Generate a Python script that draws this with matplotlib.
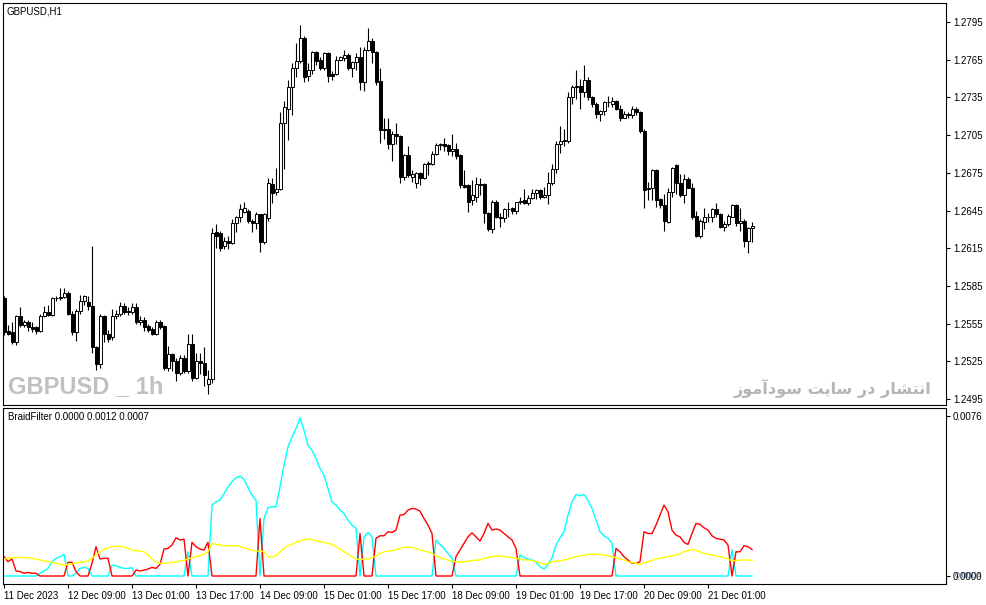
import numpy as np
import matplotlib
matplotlib.use('Agg')
import matplotlib.pyplot as plt

plt.rcParams['font.family'] = ['Liberation Sans', 'DejaVu Sans']

# GBPUSD H1 candles, bar 0 = 11 Dec 17:00
opens = [1.2575, 1.2549, 1.2548, 1.2540, 1.2561, 1.2554, 1.2556, 1.2552, 1.2552, 1.2549,
         1.2561, 1.2564, 1.2562, 1.2575, 1.2575, 1.2576, 1.2579, 1.2563, 1.2548, 1.2565,
         1.2573, 1.2572, 1.2569, 1.2536, 1.2523, 1.2561, 1.2547, 1.2544, 1.2561, 1.2563,
         1.2569, 1.2565, 1.2564, 1.2568, 1.2556, 1.2558, 1.2553, 1.2551, 1.2547, 1.2556,
         1.2553, 1.2520, 1.2531, 1.2525, 1.2516, 1.2528, 1.2517, 1.2539, 1.2512, 1.2525,
         1.2524, 1.2507, 1.2511, 1.2628, 1.2627, 1.2617, 1.2621, 1.2619, 1.2635, 1.2640,
         1.2644, 1.2645, 1.2637, 1.2635, 1.2642, 1.2620, 1.2639, 1.2666, 1.2660, 1.2662,
         1.2715, 1.2726, 1.2743, 1.2758, 1.2764, 1.2782, 1.2752, 1.2757, 1.2771, 1.2765,
         1.2758, 1.2770, 1.2754, 1.2754, 1.2765, 1.2766, 1.2769, 1.2758, 1.2763, 1.2767,
         1.2747, 1.2773, 1.2780, 1.2771, 1.2748, 1.2709, 1.2710, 1.2698, 1.2706, 1.2704,
         1.2672, 1.2689, 1.2672, 1.2667, 1.2675, 1.2671, 1.2682, 1.2682, 1.2690, 1.2697,
         1.2698, 1.2697, 1.2692, 1.2694, 1.2689, 1.2665, 1.2665, 1.2653, 1.2656, 1.2666,
         1.2666, 1.2643, 1.2630, 1.2652, 1.2640, 1.2639, 1.2646, 1.2647, 1.2645, 1.2652,
         1.2653, 1.2651, 1.2655, 1.2659, 1.2661, 1.2656, 1.2657, 1.2667, 1.2678, 1.2698,
         1.2700, 1.2700, 1.2735, 1.2743, 1.2744, 1.2739, 1.2749, 1.2735, 1.2730, 1.2722,
         1.2724, 1.2731, 1.2730, 1.2732, 1.2726, 1.2719, 1.2722, 1.2721, 1.2726, 1.2723,
         1.2708, 1.2662, 1.2663, 1.2677, 1.2654, 1.2649, 1.2636, 1.2660, 1.2681, 1.2667,
         1.2657, 1.2670, 1.2663, 1.2641, 1.2625, 1.2636, 1.2640, 1.2640, 1.2646, 1.2642,
         1.2632, 1.2634, 1.2640, 1.2649, 1.2635, 1.2637, 1.2621, 1.2631]
highs = [1.2577, 1.2554, 1.2556, 1.2562, 1.2568, 1.2558, 1.2558, 1.2556, 1.2553, 1.2563,
         1.2569, 1.2570, 1.2576, 1.2577, 1.2583, 1.2583, 1.2581, 1.2565, 1.2567, 1.2578,
         1.2578, 1.2577, 1.2617, 1.2537, 1.2563, 1.2562, 1.2550, 1.2567, 1.2566, 1.2572,
         1.2571, 1.2568, 1.2571, 1.2571, 1.2561, 1.2560, 1.2555, 1.2552, 1.2558, 1.2558,
         1.2554, 1.2537, 1.2532, 1.2528, 1.2530, 1.2530, 1.2547, 1.2547, 1.2532, 1.2532,
         1.2536, 1.2518, 1.2631, 1.2634, 1.2629, 1.2624, 1.2625, 1.2638, 1.2641, 1.2650,
         1.2652, 1.2646, 1.2638, 1.2644, 1.2642, 1.2643, 1.2671, 1.2671, 1.2679, 1.2723,
         1.2732, 1.2749, 1.2762, 1.2778, 1.2793, 1.2784, 1.2762, 1.2772, 1.2772, 1.2767,
         1.2771, 1.2771, 1.2756, 1.2768, 1.2768, 1.2773, 1.2770, 1.2764, 1.2770, 1.2775,
         1.2775, 1.2790, 1.2782, 1.2772, 1.2758, 1.2719, 1.2719, 1.2708, 1.2715, 1.2705,
         1.2690, 1.2696, 1.2677, 1.2676, 1.2676, 1.2683, 1.2684, 1.2692, 1.2699, 1.2699,
         1.2703, 1.2698, 1.2706, 1.2699, 1.2690, 1.2677, 1.2666, 1.2669, 1.2672, 1.2671,
         1.2667, 1.2644, 1.2653, 1.2653, 1.2643, 1.2647, 1.2652, 1.2648, 1.2652, 1.2656,
         1.2662, 1.2657, 1.2662, 1.2662, 1.2662, 1.2664, 1.2676, 1.2682, 1.2700, 1.2712,
         1.2710, 1.2739, 1.2745, 1.2757, 1.2750, 1.2761, 1.2751, 1.2736, 1.2731, 1.2725,
         1.2732, 1.2736, 1.2735, 1.2733, 1.2729, 1.2724, 1.2723, 1.2728, 1.2727, 1.2724,
         1.2710, 1.2668, 1.2678, 1.2678, 1.2655, 1.2658, 1.2663, 1.2680, 1.2682, 1.2674,
         1.2674, 1.2672, 1.2667, 1.2645, 1.2638, 1.2647, 1.2643, 1.2647, 1.2651, 1.2643,
         1.2637, 1.2642, 1.2650, 1.2650, 1.2647, 1.2638, 1.2632, 1.2636]
lows = [1.2546, 1.2546, 1.2539, 1.2538, 1.2552, 1.2552, 1.2549, 1.2548, 1.2547, 1.2548,
        1.2560, 1.2561, 1.2561, 1.2573, 1.2574, 1.2575, 1.2562, 1.2546, 1.2541, 1.2563,
        1.2570, 1.2566, 1.2532, 1.2518, 1.2520, 1.2540, 1.2540, 1.2542, 1.2559, 1.2561,
        1.2563, 1.2562, 1.2563, 1.2555, 1.2554, 1.2549, 1.2548, 1.2546, 1.2546, 1.2551,
        1.2518, 1.2517, 1.2517, 1.2509, 1.2514, 1.2516, 1.2516, 1.2509, 1.2511, 1.2515,
        1.2505, 1.2499, 1.2508, 1.2615, 1.2613, 1.2614, 1.2614, 1.2618, 1.2628, 1.2636,
        1.2643, 1.2635, 1.2628, 1.2630, 1.2612, 1.2618, 1.2637, 1.2651, 1.2657, 1.2661,
        1.2678, 1.2701, 1.2721, 1.2751, 1.2762, 1.2747, 1.2748, 1.2754, 1.2761, 1.2757,
        1.2757, 1.2747, 1.2749, 1.2753, 1.2764, 1.2764, 1.2757, 1.2751, 1.2757, 1.2741,
        1.2740, 1.2772, 1.2762, 1.2745, 1.2699, 1.2702, 1.2694, 1.2684, 1.2698, 1.2667,
        1.2669, 1.2672, 1.2668, 1.2663, 1.2665, 1.2670, 1.2673, 1.2681, 1.2689, 1.2693,
        1.2692, 1.2689, 1.2688, 1.2686, 1.2663, 1.2663, 1.2644, 1.2649, 1.2652, 1.2657,
        1.2635, 1.2629, 1.2627, 1.2639, 1.2632, 1.2636, 1.2640, 1.2642, 1.2642, 1.2650,
        1.2650, 1.2649, 1.2654, 1.2654, 1.2654, 1.2655, 1.2650, 1.2665, 1.2675, 1.2691,
        1.2696, 1.2699, 1.2730, 1.2734, 1.2726, 1.2735, 1.2733, 1.2727, 1.2719, 1.2716,
        1.2721, 1.2727, 1.2727, 1.2725, 1.2716, 1.2719, 1.2719, 1.2719, 1.2721, 1.2707,
        1.2647, 1.2653, 1.2653, 1.2648, 1.2647, 1.2629, 1.2635, 1.2656, 1.2658, 1.2656,
        1.2651, 1.2663, 1.2638, 1.2624, 1.2623, 1.2630, 1.2636, 1.2636, 1.2640, 1.2631,
        1.2629, 1.2633, 1.2640, 1.2633, 1.2629, 1.2616, 1.2611, 1.2620]
closes = [1.2548, 1.2547, 1.2540, 1.2561, 1.2554, 1.2556, 1.2552, 1.2551, 1.2549, 1.2561,
          1.2564, 1.2562, 1.2575, 1.2575, 1.2576, 1.2579, 1.2563, 1.2548, 1.2565, 1.2573,
          1.2577, 1.2569, 1.2536, 1.2523, 1.2561, 1.2547, 1.2543, 1.2561, 1.2563, 1.2569,
          1.2564, 1.2564, 1.2568, 1.2556, 1.2558, 1.2552, 1.2550, 1.2547, 1.2556, 1.2552,
          1.2520, 1.2531, 1.2525, 1.2516, 1.2528, 1.2517, 1.2539, 1.2512, 1.2525, 1.2524,
          1.2514, 1.2511, 1.2627, 1.2625, 1.2615, 1.2621, 1.2619, 1.2635, 1.2640, 1.2646,
          1.2647, 1.2637, 1.2635, 1.2642, 1.2620, 1.2642, 1.2667, 1.2659, 1.2662, 1.2715,
          1.2727, 1.2743, 1.2758, 1.2764, 1.2782, 1.2751, 1.2757, 1.2771, 1.2764, 1.2758,
          1.2770, 1.2752, 1.2752, 1.2765, 1.2767, 1.2769, 1.2758, 1.2763, 1.2767, 1.2747,
          1.2773, 1.2780, 1.2771, 1.2747, 1.2709, 1.2710, 1.2698, 1.2706, 1.2704, 1.2672,
          1.2689, 1.2673, 1.2674, 1.2675, 1.2671, 1.2682, 1.2683, 1.2690, 1.2697, 1.2698,
          1.2696, 1.2692, 1.2694, 1.2688, 1.2665, 1.2664, 1.2652, 1.2657, 1.2666, 1.2665,
          1.2643, 1.2630, 1.2652, 1.2640, 1.2639, 1.2646, 1.2646, 1.2645, 1.2652, 1.2652,
          1.2651, 1.2655, 1.2659, 1.2661, 1.2656, 1.2657, 1.2667, 1.2678, 1.2698, 1.2700,
          1.2701, 1.2735, 1.2743, 1.2744, 1.2739, 1.2749, 1.2735, 1.2730, 1.2722, 1.2724,
          1.2731, 1.2731, 1.2732, 1.2726, 1.2719, 1.2722, 1.2721, 1.2726, 1.2723, 1.2708,
          1.2661, 1.2663, 1.2677, 1.2653, 1.2649, 1.2637, 1.2660, 1.2679, 1.2667, 1.2657,
          1.2670, 1.2663, 1.2640, 1.2625, 1.2637, 1.2640, 1.2640, 1.2646, 1.2642, 1.2632,
          1.2634, 1.2641, 1.2649, 1.2635, 1.2637, 1.2621, 1.2631, 1.2633]

# BraidFilter buffers, in units of 0.0001
braid_up = [0, 0, 0, 0, 0, 0, 0, 0, 0, 1.3,
            2.4, 3.6, 6.8, 8.4, 9.2, 10.3, 0, 0, 1.3, 3.6,
            4.1, 3.6, 0, 0, 0, 0, 0, 5.2, 4.9, 4.1,
            3.6, 3.6, 4.0, 0, 0, 0, 0, 0, 0, 0,
            0, 0, 0, 0, 0, 0, 11.5, 0, 0, 0,
            0, 0, 33.7, 35.2, 36.0, 39.2, 42.3, 44.7, 46.6, 47.4,
            46.0, 41.9, 38.4, 36.0, 0, 27.3, 32.4, 32.9, 32.9, 42.3,
            52.6, 61.3, 66.0, 70.0, 75.1, 69.2, 62.1, 59.7, 55.8, 51.0,
            47.9, 41.6, 35.2, 33.7, 31.3, 29.7, 26.5, 24.2, 22.6, 0,
            18.6, 20.7, 18.6, 0, 0, 0, 0, 0, 0, 0,
            0, 0, 0, 0, 0, 0, 0, 0, 17.1, 15.0,
            13.1, 10.7, 8.4, 0, 0, 0, 0, 0, 0, 0,
            0, 0, 0, 0, 0, 0, 0, 0, 0, 10.0,
            8.7, 8.1, 7.6, 6.5, 4.4, 3.3, 5.5, 8.7, 14.7, 18.2,
            21.0, 28.9, 35.2, 38.7, 38.1, 38.7, 36.0, 32.1, 26.5, 21.0,
            19.1, 17.9, 15.5, 0, 0, 0, 0, 0, 0, 0,
            0, 0, 0, 0, 0, 0, 0, 0, 0, 0,
            0, 0, 0, 0, 0, 0, 0, 0, 0, 0,
            0, 0, 12.3, 0, 0, 0, 0, 0]
braid_dn = [9.2, 6.8, 8.1, 2.4, 2.1, 1.3, 1.7, 1.3, 1.3, 0,
            0, 0, 0, 0, 0, 0, 6.5, 6.5, 2.1, 0,
            0, 0, 6.0, 13.9, 8.1, 8.4, 8.4, 0, 0, 0,
            0, 0, 0, 2.8, 2.4, 2.8, 3.3, 4.1, 3.6, 5.5,
            12.8, 13.1, 14.7, 18.2, 17.1, 17.5, 0, 16.0, 13.9, 12.8,
            12.3, 16.0, 0, 0, 0, 0, 0, 0, 0, 0,
            0, 0, 0, 0, 27.3, 0, 0, 0, 0, 0,
            0, 0, 0, 0, 0, 0, 0, 0, 0, 0,
            0, 0, 0, 0, 0, 0, 0, 0, 0, 20.2,
            0, 0, 0, 17.9, 19.1, 19.1, 21.0, 20.7, 21.8, 28.9,
            29.2, 31.3, 32.1, 31.8, 30.8, 27.3, 24.2, 20.2, 0, 0,
            0, 0, 0, 9.2, 12.3, 15.5, 18.6, 20.5, 18.6, 16.6,
            20.2, 25.0, 21.8, 22.3, 21.8, 20.2, 18.6, 17.1, 13.1, 0,
            0, 0, 0, 0, 0, 0, 0, 0, 0, 0,
            0, 0, 0, 0, 0, 0, 0, 0, 0, 0,
            0, 0, 0, 13.1, 11.5, 9.2, 7.6, 6.0, 6.0, 6.8,
            21.0, 20.2, 20.2, 24.2, 28.9, 33.7, 30.5, 21.8, 19.4, 18.6,
            16.0, 15.0, 20.2, 25.0, 24.5, 22.9, 21.8, 19.1, 17.9, 17.5,
            17.1, 14.7, 0, 11.5, 11.5, 14.4, 13.9, 12.6]
braid_flt = [8.1, 8.4, 8.7, 8.8, 8.8, 8.8, 8.7, 8.4, 8.1, 7.6,
             7.1, 6.8, 6.5, 6.0, 5.5, 5.2, 5.5, 5.8, 6.2, 6.5,
             6.8, 7.1, 8.4, 10.0, 11.5, 12.8, 13.4, 13.9, 14.1, 14.1,
             13.7, 13.1, 12.3, 12.0, 11.9, 11.5, 10.0, 8.1, 6.8, 6.0,
             6.0, 6.2, 6.5, 6.8, 7.1, 7.4, 8.1, 8.7, 9.2, 9.6,
             10.3, 11.5, 15.5, 15.0, 14.7, 14.4, 14.4, 14.4, 14.4, 14.1,
             13.4, 12.8, 12.2, 11.9, 11.9, 11.5, 9.2, 9.0, 9.6, 11.5,
             13.1, 14.4, 15.0, 16.0, 16.6, 17.2, 17.5, 17.4, 16.7, 16.3,
             16.0, 15.5, 15.0, 13.9, 12.8, 11.5, 10.3, 9.2, 8.1, 7.7,
             8.1, 8.1, 8.7, 9.5, 10.7, 11.5, 11.9, 12.0, 12.5, 13.1,
             13.6, 13.6, 13.6, 13.1, 12.3, 11.9, 11.5, 10.7, 9.6, 8.7,
             8.1, 7.6, 7.1, 6.8, 6.5, 6.8, 7.1, 7.3, 7.6, 7.6,
             8.4, 8.8, 9.2, 9.5, 9.5, 9.3, 9.2, 8.7, 8.4, 8.1,
             7.6, 7.6, 7.3, 6.8, 6.3, 5.5, 6.0, 6.8, 7.1, 7.1,
             7.6, 8.1, 8.7, 9.2, 9.5, 9.8, 10.3, 10.3, 10.3, 10.3,
             10.0, 9.6, 9.2, 8.7, 8.1, 7.6, 6.8, 6.3, 6.0, 5.5,
             6.3, 6.8, 7.4, 8.1, 8.4, 8.8, 9.2, 9.6, 10.0, 10.4,
             11.5, 12.0, 12.6, 12.3, 11.5, 10.7, 10.4, 10.0, 9.6, 9.2,
             8.7, 8.1, 7.3, 7.3, 7.6, 7.6, 7.7, 7.3]

price_ticks = [1.2495, 1.2525, 1.2555, 1.2585, 1.2615, 1.2645, 1.2675, 1.2705, 1.2735, 1.2765, 1.2795]
time_ticks = [0, 16, 32, 48, 64, 80, 96, 112, 128, 144, 160, 176]
time_labels = ['11 Dec 2023', '12 Dec 09:00', '13 Dec 01:00', '13 Dec 17:00', '14 Dec 09:00',
               '15 Dec 01:00', '15 Dec 17:00', '18 Dec 09:00', '19 Dec 01:00', '19 Dec 17:00',
               '20 Dec 09:00', '21 Dec 01:00']

o = np.array(opens); h = np.array(highs); l = np.array(lows); c = np.array(closes)
x = np.arange(len(o))
up = np.array(braid_up) * 1e-4
dn = np.array(braid_dn) * 1e-4
flt = np.array(braid_flt) * 1e-4

W, H = 987, 605
def rect(x0, y0, x1, y1):
    return [x0 / W, 1 - y1 / H, (x1 - x0) / W, (y1 - y0) / H]

fig = plt.figure(figsize=(W / 100, H / 100), dpi=100)
ax = fig.add_axes(rect(3, 3, 946, 405))
ax2 = fig.add_axes(rect(3, 408, 946, 584))

xmin, xmax = -0.25, 235.5

# candles
ax.vlines(x, l, h, color='black', lw=0.8, zorder=2)
bull = c >= o
body = np.where(np.abs(c - o) < 0.00002, 0.00002, c - o)
ax.bar(x[bull], body[bull], bottom=o[bull], width=0.75, facecolor='white',
       edgecolor='black', linewidth=0.7, zorder=3)
ax.bar(x[~bull], body[~bull], bottom=o[~bull], width=0.75, facecolor='black',
       edgecolor='black', linewidth=0.7, zorder=3)

p = 0.03 / 377
ax.set_xlim(xmin, xmax)
ax.set_ylim(1.2495 - 6 * p, 1.2795 + 19 * p)
ax.yaxis.tick_right()
ax.set_yticks(price_ticks)
ax.set_yticklabels(['%.4f' % v for v in price_ticks])
ax.set_xticks([])
ax.tick_params(axis='y', length=3, width=0.8, labelsize=7, pad=2)

ax.text(0.004, 0.978, 'GBPUSD,H1', transform=ax.transAxes, fontsize=7, va='center', ha='left')
ax.text(5 / 943, 1 - 384 / 402, 'GBPUSD _ 1h', transform=ax.transAxes,
        fontsize=17, fontweight='heavy', color='#c0c0c0', va='center', ha='left',
        family=['Liberation Sans'])

forms = ['\uFE8D', '\uFEE7', '\uFE98', '\uFEB8', '\uFE8E', '\uFEAD', ' ',
         '\uFEA9', '\uFEAD', ' ',
         '\uFEB3', '\uFE8E', '\uFBFE', '\uFE96', ' ',
         '\uFEB3', '\uFEEE', '\uFEA9', '\uFE81', '\uFEE3', '\uFEEE', '\uFEAF']
site = ''.join(reversed(forms))
ax.text(928 / 943, 1 - 385 / 402, site, transform=ax.transAxes, fontsize=11.5,
        fontweight='bold', color='#b5b5b5', va='center', ha='right', family=['DejaVu Sans'])

# indicator window
ax2.plot(x, up, color='#00ffff', lw=1)
ax2.plot(x, dn, color='#ff0000', lw=1)
ax2.plot(x, flt, color='#ffff00', lw=1)
q = 0.0076 / 160
ax2.set_xlim(xmin, xmax)
ax2.set_ylim(-8 * q, 0.0076 + 8 * q)
ax2.yaxis.tick_right()
ax2.set_yticks([0.0, 0.0076])
ax2.set_yticklabels(['0.0000', '0.0076'])
ax2.tick_params(axis='y', length=3, width=0.8, labelsize=7, pad=2)
ax2.set_xticks(time_ticks)
ax2.set_xticklabels(time_labels, ha='left')
ax2.tick_params(axis='x', length=3, width=0.8, labelsize=7, pad=2)
# second level label drawn over the zero label, as in the terminal
ax2.text(1.0 + 9 / 943, 8 / 176, '0.0004', transform=ax2.transAxes, fontsize=6.5,
         va='center', ha='left', color='#1f3a7a', alpha=0.75)
ax2.text(0.005, 1 - 9 / 176, 'BraidFilter 0.0000 0.0012 0.0007', transform=ax2.transAxes,
         fontsize=7, va='center', ha='left')

for a in (ax, ax2):
    for s in a.spines.values():
        s.set_linewidth(0.8)

fig.savefig('out.png', dpi=100)
